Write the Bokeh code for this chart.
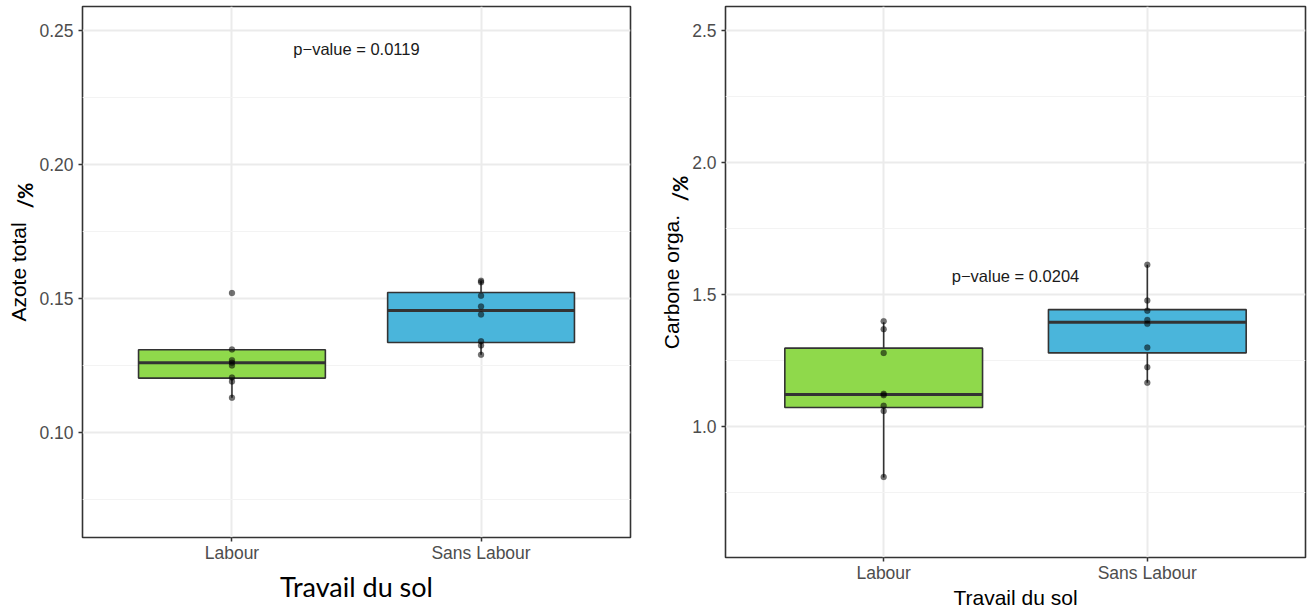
import math

from bokeh.embed import file_html
from bokeh.layouts import column
from bokeh.models import (ColumnDataSource, FactorRange, FixedTicker, GridBox,
                          Label, PrintfTickFormatter, Range1d)
from bokeh.plotting import figure
from bokeh.resources import INLINE
from bokeh.transform import dodge

# Soil tillage groups
categories = ["Labour", "Sans Labour"]
box_colors = ["#8FD94B", "#4AB5DB"]

# Total nitrogen (%)
azote_labour = [0.152, 0.131, 0.127, 0.126, 0.125, 0.1205, 0.119, 0.113]
azote_sans_labour = [0.1566, 0.156, 0.151, 0.147, 0.144, 0.134, 0.1325, 0.129]
azote_q1 = [0.1203, 0.1336]
azote_median = [0.126, 0.1455]
azote_q3 = [0.1309, 0.1522]
azote_lower = [0.113, 0.129]
azote_upper = [0.131, 0.1566]
azote_pvalue = "p\u2212value = 0.0119"
azote_pvalue_y = 0.2431
azote_ticks = [0.10, 0.15, 0.20, 0.25]
azote_minor_ticks = [0.075, 0.125, 0.175, 0.225]

# Organic carbon (%)
carbone_labour = [1.40, 1.37, 1.28, 1.125, 1.12, 1.08, 1.06, 0.81]
carbone_sans_labour = [1.614, 1.478, 1.44, 1.405, 1.39, 1.30, 1.226, 1.167]
carbone_q1 = [1.073, 1.28]
carbone_median = [1.122, 1.396]
carbone_q3 = [1.298, 1.444]
carbone_lower = [0.808, 1.167]
carbone_upper = [1.396, 1.614]
carbone_pvalue = "p\u2212value = 0.0204"
carbone_pvalue_y = 1.572
carbone_ticks = [1.0, 1.5, 2.0, 2.5]
carbone_minor_ticks = [0.75, 1.25, 1.75, 2.25]

unit_text = "/%"

SANS = "Liberation Sans"
DARK = "#333333"
PAGE_W, PAGE_H = 1307, 609


def make_panel(values_a, values_b, q1, med, q3, lo, hi, ticks, minor, fmt,
               y_start, y_end, pvalue, pvalue_y, ylabel, xlabel_font,
               xlabel_size, frame_w, frame_h, borders, xlabel_standoff):
    left, right, top, bottom = borders
    p = figure(
        x_range=FactorRange(*categories, range_padding=0.1,
                            range_padding_units="percent"),
        y_range=Range1d(y_start, y_end),
        frame_width=frame_w, frame_height=frame_h,
        min_border_left=left, min_border_right=right,
        min_border_top=top, min_border_bottom=bottom,
        output_backend="svg", toolbar_location=None,
        background_fill_color="white", border_fill_color="white",
    )
    p.outline_line_color = DARK
    p.outline_line_width = 1.6

    # grid
    p.xgrid.grid_line_color = "#EBEBEB"
    p.xgrid.grid_line_width = 2
    p.ygrid.grid_line_color = "#EBEBEB"
    p.ygrid.grid_line_width = 2
    p.ygrid.minor_grid_line_color = "#F3F3F3"
    p.ygrid.minor_grid_line_width = 1

    # axes
    p.yaxis.ticker = FixedTicker(ticks=ticks, minor_ticks=minor)
    p.yaxis.formatter = PrintfTickFormatter(format=fmt)
    for ax in (p.xaxis[0], p.yaxis[0]):
        ax.axis_line_color = None
        ax.major_tick_line_color = DARK
        ax.major_tick_line_width = 1.5
        ax.major_tick_out = 4
        ax.major_tick_in = 0
        ax.minor_tick_line_color = None
        ax.major_label_text_font = SANS
        ax.major_label_text_font_size = "17.5px"
        ax.major_label_text_color = "#4D4D4D"
        ax.major_label_standoff = 5
        ax.axis_label_text_font_style = "normal"
        ax.axis_label_text_color = "black"
    p.xaxis.major_label_standoff = 1
    p.yaxis.axis_label = ylabel
    p.yaxis.axis_label_text_font = SANS
    p.yaxis.axis_label_text_font_size = "21px"
    p.yaxis.axis_label_standoff = 6
    p.xaxis.axis_label = "Travail du sol"
    p.xaxis.axis_label_text_font = xlabel_font
    p.xaxis.axis_label_text_font_size = xlabel_size
    p.xaxis.axis_label_standoff = xlabel_standoff

    box = ColumnDataSource(dict(cat=categories, q1=q1, med=med, q3=q3,
                                lo=lo, hi=hi, color=box_colors))
    # whiskers
    p.segment(x0="cat", y0="q3", x1="cat", y1="hi", source=box,
              line_color=DARK, line_width=1.6)
    p.segment(x0="cat", y0="q1", x1="cat", y1="lo", source=box,
              line_color=DARK, line_width=1.6)
    # boxes
    p.vbar(x="cat", bottom="q1", top="q3", width=0.75, source=box,
           fill_color="color", fill_alpha=1.0, line_color=DARK, line_width=1.6)
    # medians
    p.segment(x0=dodge("cat", -0.375, range=p.x_range), y0="med",
              x1=dodge("cat", 0.375, range=p.x_range), y1="med", source=box,
              line_color=DARK, line_width=3)

    # individual observations
    pts_x = [categories[0]] * len(values_a) + [categories[1]] * len(values_b)
    pts_y = list(values_a) + list(values_b)
    p.scatter(x=pts_x, y=pts_y, size=6, fill_color="black", fill_alpha=0.55,
              line_color="black", line_alpha=0.3, line_width=0.5)

    p.add_layout(Label(x=1.0, y=pvalue_y, text=pvalue, text_align="center",
                       text_baseline="middle", text_font=SANS,
                       text_font_size="16.5px", text_color="#1A1A1A"))
    return p


left = make_panel(azote_labour, azote_sans_labour, azote_q1, azote_median,
                  azote_q3, azote_lower, azote_upper, azote_ticks,
                  azote_minor_ticks, "%.2f", 0.0609, 0.2588, azote_pvalue,
                  azote_pvalue_y, "Azote total", "Lato", "27px",
                  548, 531, (82, 20, 5, 73), 4)

right = make_panel(carbone_labour, carbone_sans_labour, carbone_q1,
                   carbone_median, carbone_q3, carbone_lower, carbone_upper,
                   carbone_ticks, carbone_minor_ticks, "%.1f", 0.505, 2.592,
                   carbone_pvalue, carbone_pvalue_y, "Carbone orga.",
                   SANS, "21px", 580, 551, (75, 2, 6, 52), 0)

# transparent layer on top of both panels carrying the "/%" unit tags
# that sit beside each y-axis title (pixel coordinates, origin top-left)
overlay = figure(
    width=PAGE_W, height=PAGE_H,
    x_range=Range1d(0, PAGE_W), y_range=Range1d(PAGE_H, 0),
    x_axis_location=None, y_axis_location=None,
    min_border=0, output_backend="svg", toolbar_location=None,
    background_fill_color=None, border_fill_color=None,
    outline_line_color=None,
)
overlay.grid.visible = False
for ux, uy in [(24, 195), (679, 188)]:
    overlay.add_layout(Label(x=ux, y=uy, text=unit_text, angle=math.pi / 2,
                             text_align="center", text_baseline="middle",
                             text_font="Lato", text_font_style="bold",
                             text_font_size="20px", text_color="black"))

layout = GridBox(children=[(left, 0, 0), (right, 0, 1),
                           (column(overlay), 0, 0, 1, 2)], spacing=0)

with open("out.html", "w") as f:
    f.write(file_html(layout, INLINE))
